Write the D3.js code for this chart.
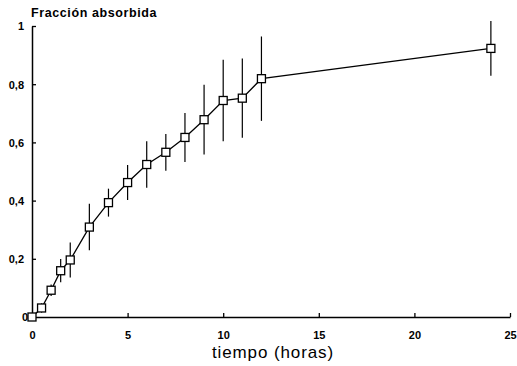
<!DOCTYPE html>
<html>
<head>
<meta charset="utf-8">
<script src="https://cdn.jsdelivr.net/npm/d3@7"></script>
<style>
  body { margin: 0; background: white; }
  svg { display: block; font-family: "Liberation Sans", Arial, sans-serif; }
  .tick text { font-weight: bold; font-size: 11px; }
</style>
</head>
<body>
<svg id="chart"></svg>
<script>
// horas
var tiempo = [0, 0.5, 1, 1.5, 2, 3, 4, 5, 6, 7, 8, 9, 10, 11, 12, 24];
// fraccion absorbida media
var fraccion = [0, 0.031, 0.092, 0.159, 0.196, 0.309, 0.393, 0.462, 0.524, 0.566, 0.617, 0.678, 0.744, 0.752, 0.819, 0.923];
// desviacion (semi-longitud de la barra)
var desv = [0, 0.016, 0.02, 0.04, 0.06, 0.08, 0.048, 0.06, 0.08, 0.063, 0.084, 0.12, 0.14, 0.136, 0.145, 0.094];

var xTicks = [0, 5, 10, 15, 20, 25];
var yTicks = [0, 0.2, 0.4, 0.6, 0.8, 1];

var data = tiempo.map((t, i) => ({t: t, v: fraccion[i], e: desv[i]}));

var W = 517, H = 366;
var margin = {top: 26, right: 7, bottom: 49, left: 32},
    width = W - margin.left - margin.right,
    height = H - margin.top - margin.bottom;

var svg = d3.select("#chart").attr("width", W).attr("height", H);

var x = d3.scaleLinear().domain([0, 25]).range([0, width]),
    y = d3.scaleLinear().domain([0, 1]).range([height, 0]);

var fmt = d => d3.format("~g")(d).replace(".", ",");

var g = svg.append("g")
    .attr("transform", "translate(" + margin.left + "," + margin.top + ")");

// eje x, marcas hacia dentro
var gx = g.append("g")
    .attr("transform", "translate(0," + height + ")")
    .call(d3.axisBottom(x).tickValues(xTicks).tickSizeInner(-4).tickSizeOuter(0).tickPadding(14).tickFormat(fmt));

// eje y, marcas hacia dentro
var gy = g.append("g")
    .call(d3.axisLeft(y).tickValues(yTicks).tickSizeInner(-4).tickSizeOuter(0).tickPadding(8).tickFormat(fmt));

g.selectAll(".domain").attr("stroke", "#000").attr("stroke-width", 1.5);
g.selectAll(".tick line").attr("stroke", "#000").attr("stroke-width", 1.3);
g.selectAll(".tick text").attr("fill", "#000");
gy.selectAll(".tick text").attr("dy", "0.36em");
gy.selectAll(".tick").filter(d => d === 0).select("text").attr("x", -4);

// barras de error
g.selectAll(".err")
  .data(data.filter(d => d.e > 0))
  .enter().append("line")
    .attr("class", "err")
    .attr("x1", d => x(d.t))
    .attr("x2", d => x(d.t))
    .attr("y1", d => y(d.v - d.e))
    .attr("y2", d => y(d.v + d.e))
    .attr("stroke", "#000")
    .attr("stroke-width", 1.2);

// linea
g.append("path")
  .datum(data)
  .attr("fill", "none")
  .attr("stroke", "#000")
  .attr("stroke-width", 1.3)
  .attr("d", d3.line().x(d => x(d.t)).y(d => y(d.v)));

// marcadores cuadrados
var s = 8;
g.selectAll(".mk")
  .data(data)
  .enter().append("rect")
    .attr("class", "mk")
    .attr("x", d => x(d.t) - s / 2)
    .attr("y", d => y(d.v) - s / 2)
    .attr("width", s)
    .attr("height", s)
    .attr("fill", "white")
    .attr("stroke", "#000")
    .attr("stroke-width", 1.3);

// titulos
svg.append("text")
  .attr("x", 31)
  .attr("y", 17)
  .style("font-weight", "bold")
  .style("font-size", "12.5px")
  .style("letter-spacing", "0.6px")
  .text("Fracción absorbida");

svg.append("text")
  .attr("x", 273)
  .attr("y", 358)
  .attr("text-anchor", "middle")
  .style("font-size", "17px")
  .style("letter-spacing", "0.9px")
  .text("tiempo (horas)");
</script>
</body>
</html>
